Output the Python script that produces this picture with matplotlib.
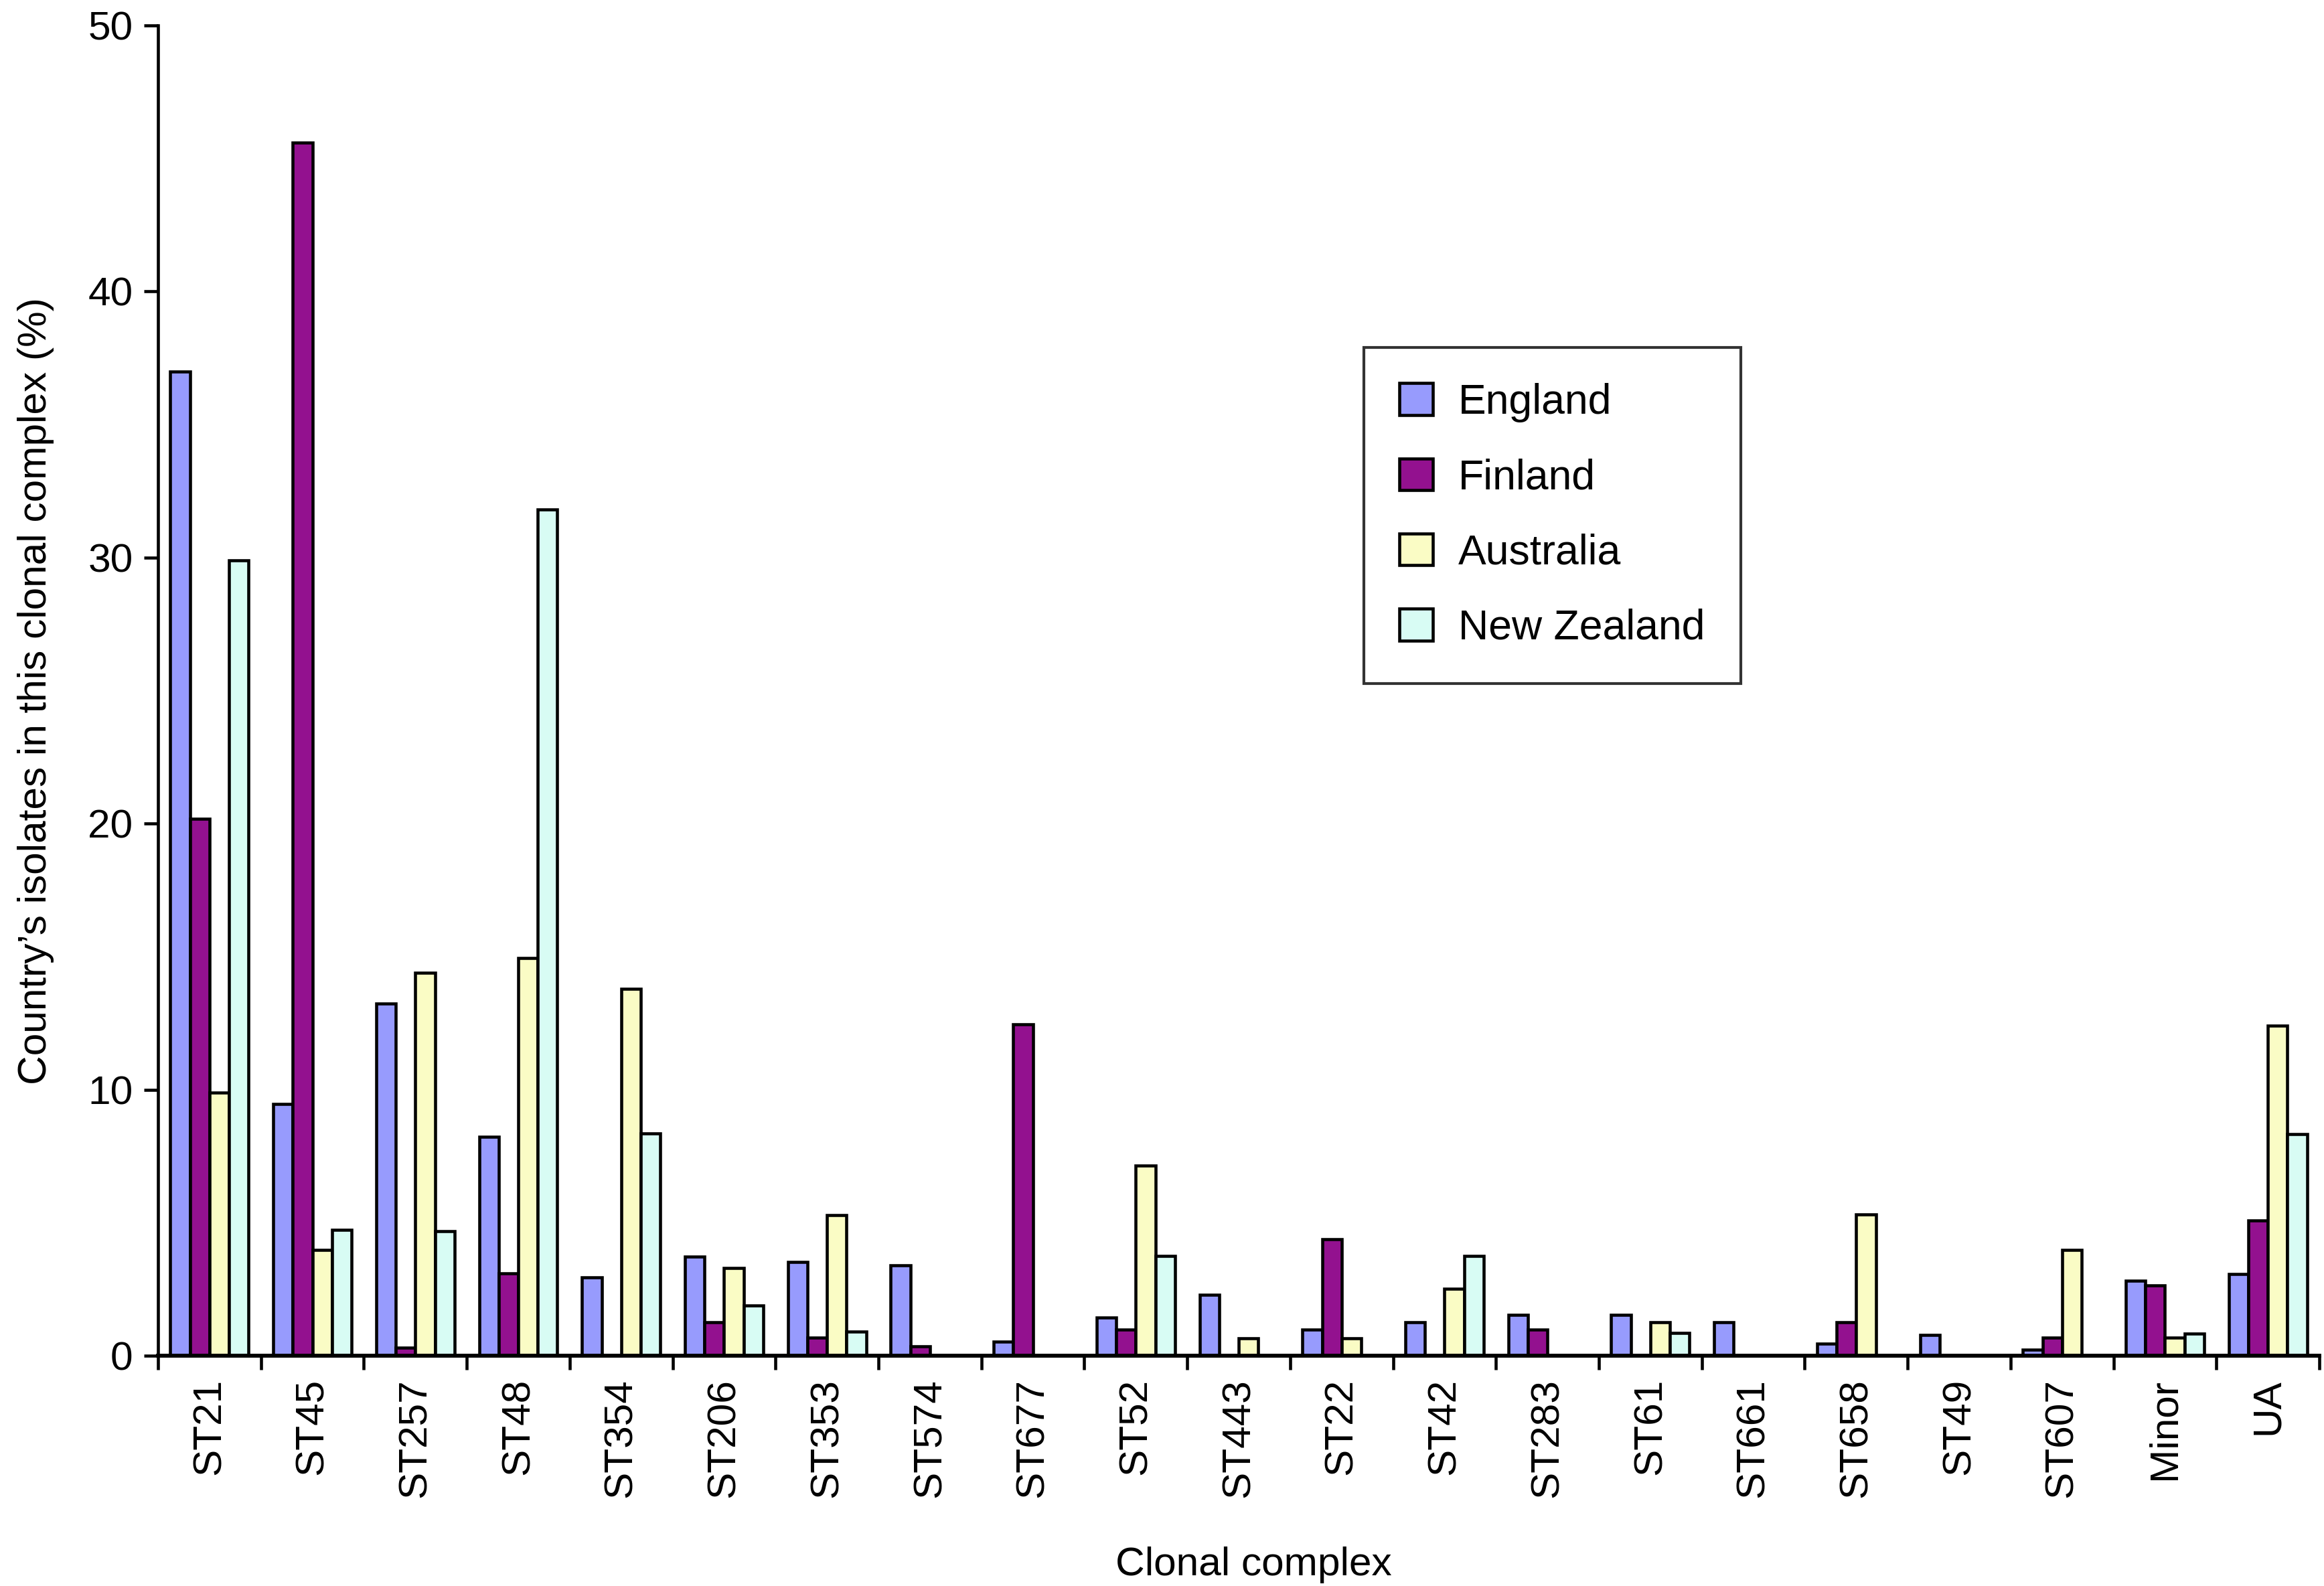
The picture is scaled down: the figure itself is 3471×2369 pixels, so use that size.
import numpy as np
import matplotlib
matplotlib.use("Agg")
import matplotlib.pyplot as plt
from matplotlib.ticker import FixedLocator

plt.rcParams["font.family"] = ["Liberation Sans", "DejaVu Sans"]

categories = ["ST21", "ST45", "ST257", "ST48", "ST354", "ST206", "ST353", "ST574",
              "ST677", "ST52", "ST443", "ST22", "ST42", "ST283", "ST61", "ST661",
              "ST658", "ST49", "ST607", "Minor", "UA"]
series_names = ["England", "Finland", "Australia", "New Zealand"]

england = [37.0, 9.46, 13.25, 8.23, 2.95, 3.73, 3.53, 3.41, 0.55, 1.44, 2.29,
           1.0, 1.28, 1.54, 1.54, 1.28, 0.46, 0.79, 0.23, 2.84, 3.07]
finland = [20.2, 45.6, 0.32, 3.11, 0.0, 1.28, 0.69, 0.36, 12.47, 0.99, 0.0,
           4.40, 0.0, 1.0, 0.0, 0.0, 1.28, 0.0, 0.68, 2.66, 5.09]
australia = [9.9, 3.98, 14.4, 14.95, 13.8, 3.32, 5.30, 0.0, 0.0, 7.15, 0.67,
             0.67, 2.52, 0.0, 1.28, 0.0, 5.31, 0.0, 3.99, 0.69, 12.42]
new_zealand = [29.9, 4.74, 4.7, 31.8, 8.36, 1.90, 0.91, 0.0, 0.0, 3.76, 0.0,
               0.0, 3.77, 0.0, 0.86, 0.0, 0.0, 0.0, 0.0, 0.85, 8.33]

colors = ["#979BFD", "#93118F", "#FAFCC5", "#D8FCF4"]

fig = plt.figure(figsize=(3471 / 300, 2369 / 300), dpi=300)
ax = fig.add_axes([0.068, 0.145, 0.93, 0.839])

x = np.arange(len(categories))
bar_w = 0.19
series = [england, finland, australia, new_zealand]
for i, (vals, name, col) in enumerate(zip(series, series_names, colors)):
    offs = (i - 1.5) * bar_w
    ax.bar(x + offs, vals, width=bar_w, color=col, edgecolor="black",
           linewidth=1.1, label=name, zorder=2)

ax.set_xlim(-0.5, len(categories) - 0.5)
ax.set_ylim(0, 50)
ax.set_yticks([0, 10, 20, 30, 40, 50])
ax.tick_params(axis="y", labelsize=14.5, length=5, width=1.1, pad=4, direction="out")

ax.set_xticks(x)
ax.set_xticklabels(categories, rotation=90, fontsize=14.5)
ax.tick_params(axis="x", which="major", length=0, pad=8)
ax.xaxis.set_minor_locator(FixedLocator(np.arange(len(categories) + 1) - 0.5))
ax.tick_params(axis="x", which="minor", length=5, width=1.1, direction="out")

for side in ["top", "right"]:
    ax.spines[side].set_visible(False)
ax.spines["left"].set_linewidth(1.1)
ax.spines["bottom"].set_linewidth(1.4)

ax.set_ylabel("Country\u2019s isolates in this clonal complex (%)", fontsize=14.5, labelpad=12)
ax.set_xlabel("Clonal complex", fontsize=14.5)
ax.xaxis.set_label_coords(0.507, -0.143)

leg = ax.legend(loc="upper left", bbox_to_anchor=(0.558, 0.758), fontsize=15,
                frameon=True, fancybox=False, edgecolor="black", borderpad=0.85,
                labelspacing=0.85, handlelength=0.8, handleheight=0.8,
                handletextpad=0.6, borderaxespad=0)
leg.get_frame().set_linewidth(1.0)

fig.savefig("out.png", dpi=300, facecolor="white")
